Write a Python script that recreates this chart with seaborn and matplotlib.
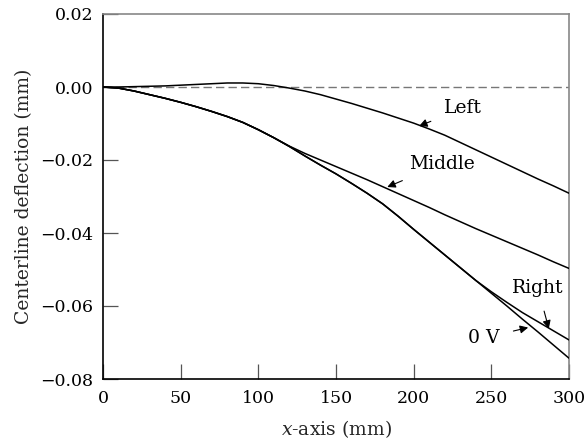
import numpy as np
import pandas as pd
import matplotlib
matplotlib.use("Agg")
import matplotlib.pyplot as plt
import seaborn as sns

# ---- data ----
x_mm = [0, 10, 20, 30, 40, 50, 60, 70, 80, 90, 100, 110, 120, 130, 140, 150,
        160, 170, 180, 190, 200, 210, 220, 230, 240, 250, 260, 270, 280, 290, 300]

left = [0.0, 0.0, 0.0001, 0.0002, 0.0003, 0.0005, 0.0007, 0.0009, 0.0011, 0.0011,
        0.0009, 0.0004, -0.0003, -0.0011, -0.0021, -0.0033, -0.0045, -0.0058,
        -0.0071, -0.0085, -0.0099, -0.0115, -0.0132, -0.0152, -0.0172, -0.0192,
        -0.0212, -0.0232, -0.0252, -0.0271, -0.0291]

zero_v = [0.0, -0.0003, -0.0011, -0.0021, -0.0031, -0.0042, -0.0054, -0.0067,
          -0.0081, -0.0097, -0.0117, -0.0139, -0.0163, -0.0189, -0.0214, -0.0238,
          -0.0264, -0.0291, -0.0320, -0.0354, -0.0390, -0.0425, -0.0460, -0.0495,
          -0.0530, -0.0565, -0.0600, -0.0636, -0.0671, -0.0707, -0.0743]

middle = [0.0, -0.0003, -0.0011, -0.0021, -0.0031, -0.0042, -0.0054, -0.0067,
          -0.0081, -0.0097, -0.0117, -0.0139, -0.0162, -0.0182, -0.0200, -0.0218,
          -0.0236, -0.0254, -0.0273, -0.0292, -0.0311, -0.0330, -0.0350, -0.0369,
          -0.0388, -0.0406, -0.0424, -0.0442, -0.0460, -0.0479, -0.0497]

right = [0.0, -0.0003, -0.0011, -0.0021, -0.0031, -0.0042, -0.0054, -0.0067,
         -0.0081, -0.0097, -0.0117, -0.0139, -0.0163, -0.0189, -0.0214, -0.0238,
         -0.0264, -0.0291, -0.0320, -0.0354, -0.0390, -0.0425, -0.0460, -0.0495,
         -0.0530, -0.0561, -0.0590, -0.0618, -0.0643, -0.0668, -0.0693]

series_names = ["Left", "Middle", "Right", "0 V"]
x_ticks = [0, 50, 100, 150, 200, 250, 300]
y_ticks = [-0.08, -0.06, -0.04, -0.02, 0.00, 0.02]
y_tick_labels = ["\u22120.08", "\u22120.06", "\u22120.04", "\u22120.02", "0.00", "0.02"]

# annotation: (label, text position, arrow tip)
annotations = [
    ("Left", (232, -0.0058), (203.5, -0.0107)),
    ("Middle", (218, -0.0211), (183, -0.0274)),
    ("Right", (280, -0.0551), (287, -0.0662)),
    ("0 V", (245, -0.0688), (273.7, -0.0659)),
]

df = pd.DataFrame({
    "x": x_mm * 4,
    "y": left + middle + right + zero_v,
    "series": sum([[n] * len(x_mm) for n in series_names], []),
})

# ---- style ----
sns.set_theme(style="white")
plt.rcParams["font.family"] = ["DejaVu Serif"]
plt.rcParams["mathtext.fontset"] = "dejavuserif"

fig = plt.figure(figsize=(5.87, 4.41), dpi=100)
ax = fig.add_axes([103 / 587, 1 - 379 / 441, (569 - 103) / 587, (379 - 14) / 441])

ax.axhline(0, color="#777777", lw=1.0, ls=(0, (6, 3)), zorder=1)

sns.lineplot(data=df, x="x", y="y", hue="series",
             palette={n: "black" for n in series_names},
             estimator=None, legend=False, lw=1.1, ax=ax, zorder=3)

ax.set_xlim(0, 300)
ax.set_ylim(-0.08, 0.02)
ax.set_xticks(x_ticks)
ax.set_yticks(y_ticks)
ax.set_yticklabels(y_tick_labels)

ax.set_xlabel(r"$\mathit{x}$-axis (mm)", fontsize=13.5, labelpad=8)
ax.set_ylabel("Centerline deflection (mm)", fontsize=13.5, labelpad=5)

ax.tick_params(axis="both", direction="in", length=11, width=0.9,
               color="#555555", labelsize=12.5, labelcolor="black",
               bottom=True, left=True, top=False, right=False)
ax.tick_params(axis="x", pad=8)
ax.tick_params(axis="y", pad=7)

for side in ["left", "bottom"]:
    ax.spines[side].set_color("black")
    ax.spines[side].set_linewidth(1.2)
for side in ["top", "right"]:
    ax.spines[side].set_color("#888888")
    ax.spines[side].set_linewidth(1.2)

for label, txt, tip in annotations:
    ax.annotate(label, xy=tip, xytext=txt, ha="center", va="center",
                fontsize=13.5, color="black",
                arrowprops=dict(arrowstyle="-|>", color="black", lw=0.8,
                                mutation_scale=12, shrinkA=8, shrinkB=0))

fig.savefig("out.png", dpi=100)
